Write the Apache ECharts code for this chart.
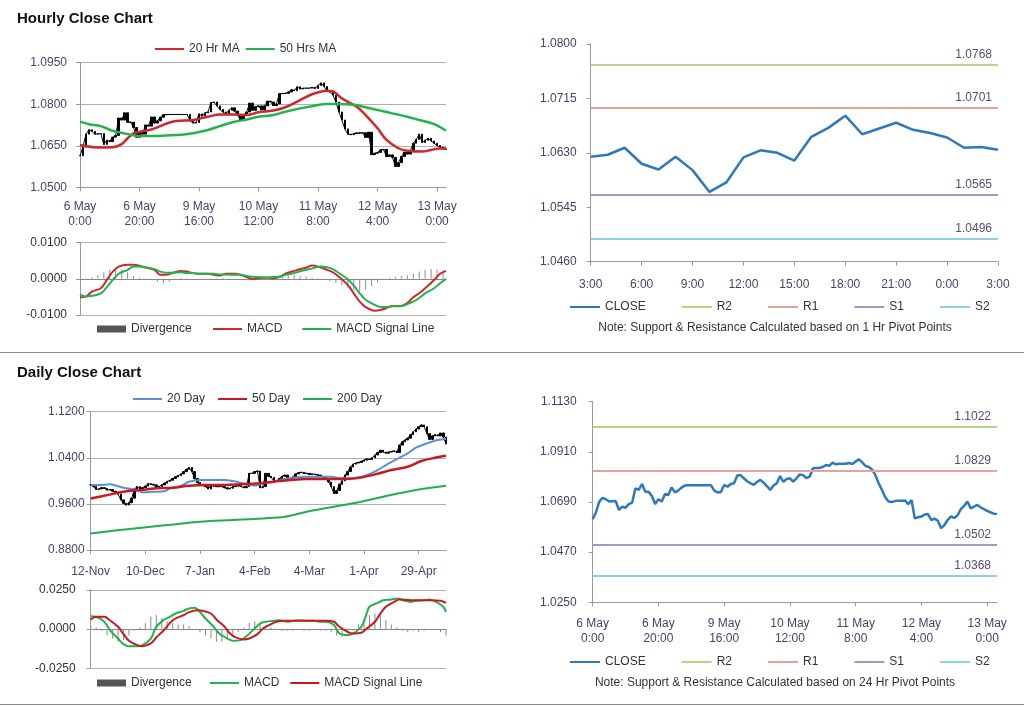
<!DOCTYPE html>
<html>
<head>
<meta charset="utf-8">
<script src="https://cdn.jsdelivr.net/npm/echarts@6/dist/echarts.min.js"></script>
<style>
html,body{margin:0;padding:0;background:#fff;}
#wrap{position:relative;width:1024px;height:706px;overflow:hidden;}
.c{position:absolute;}
.sep{position:absolute;left:0;width:1024px;height:1px;background:#8c8c8c;}
</style>
</head>
<body>
<div id="wrap">
  <div id="A" class="c" style="left:0;top:0;width:512px;height:352px;"></div>
  <div id="B" class="c" style="left:512px;top:0;width:512px;height:352px;"></div>
  <div id="C" class="c" style="left:0;top:352px;width:512px;height:354px;"></div>
  <div id="D" class="c" style="left:512px;top:352px;width:512px;height:354px;"></div>
  <div class="sep" style="top:352px;"></div>
  <div class="sep" style="top:704px;"></div>
</div>
<script>
// ---------------- DATA ----------------
const hourlyTicks = ['6 May\n0:00','6 May\n20:00','9 May\n16:00','10 May\n12:00','11 May\n8:00','12 May\n4:00','13 May\n0:00'];
const hour24Ticks = ['3:00','6:00','9:00','12:00','15:00','18:00','21:00','0:00','3:00'];
const dailyTicks = ['12-Nov','10-Dec','7-Jan','4-Feb','4-Mar','1-Apr','29-Apr'];

// hourly closes, 6 May 0:00 .. 13 May 3:00 (124 hours)
const hourlyClose = [
 1.0614,1.0645,1.0692,1.0708,1.0702,1.0692,1.0693,1.0694,1.0655,1.0670,
 1.0665,1.0681,1.0687,1.0750,1.0743,1.0769,1.0735,1.0735,1.0716,1.0681,
 1.0702,1.0692,1.0725,1.0721,1.0754,1.0732,1.0740,1.0753,1.0762,1.0763,
 1.0763,1.0763,1.0763,1.0763,1.0763,1.0763,1.0763,1.0740,1.0732,1.0734,
 1.0765,1.0757,1.0769,1.0772,1.0806,1.0808,1.0794,1.0781,1.0772,1.0765,
 1.0778,1.0787,1.0775,1.0760,1.0743,1.0762,1.0772,1.0804,1.0778,1.0791,
 1.0794,1.0779,1.0794,1.0811,1.0808,1.0795,1.0801,1.0838,1.0839,1.0839,
 1.0844,1.0852,1.0849,1.0863,1.0855,1.0858,1.0858,1.0858,1.0861,1.0857,
 1.0868,1.0877,1.0864,1.0848,1.0844,1.0833,1.0808,1.0772,1.0743,1.0711,
 1.0692,1.0690,1.0694,1.0696,1.0696,1.0697,1.0680,1.0699,1.0618,1.0623,
 1.0626,1.0635,1.0637,1.0611,1.0617,1.0608,1.0575,1.0589,1.0611,1.0627,
 1.0620,1.0632,1.0659,1.0673,1.0692,1.0662,1.0670,1.0677,1.0667,1.0659,
 1.0651,1.0645,1.0639,1.0637
];
// [hour index, value]
const hourlyMA20 = [[0,1.0653],[6,1.0644],[11,1.0645],[14,1.0656],[16,1.0677],[18,1.0695],[20,1.0700],[24,1.0709],[27,1.0721],[31,1.0737],[35,1.0741],[38,1.0743],[43,1.0755],[47,1.0763],[52,1.0763],[56,1.0761],[60,1.0771],[65,1.0777],[69,1.0789],[74,1.0815],[78,1.0836],[83,1.0849],[85,1.0847],[88,1.0821],[93,1.0791],[96,1.0761],[100,1.0713],[103,1.0671],[107,1.0641],[110,1.0632],[115,1.0629],[118,1.0635],[121,1.0640],[123,1.0640]];
const hourlyMA50 = [[0,1.0737],[3,1.0728],[7,1.0721],[11,1.0704],[16,1.0692],[20,1.0685],[25,1.0685],[29,1.0687],[34,1.0690],[38,1.0695],[43,1.0707],[47,1.0721],[52,1.0737],[56,1.0745],[60,1.0755],[65,1.0761],[69,1.0773],[74,1.0785],[78,1.0793],[83,1.0801],[87,1.0801],[92,1.0798],[96,1.0789],[101,1.0777],[105,1.0767],[110,1.0755],[114,1.0743],[119,1.0728],[123,1.0704]];
const hourlyMACD = [[0,-0.0051],[2,-0.0049],[4,-0.0035],[7,-0.0026],[9,-0.0003],[11,0.0020],[13,0.0034],[16,0.0039],[18,0.0039],[20,0.0036],[22,0.0031],[25,0.0025],[27,0.0011],[29,0.0011],[31,0.0016],[34,0.0022],[36,0.0020],[38,0.0016],[40,0.0014],[43,0.0014],[45,0.0011],[47,0.0009],[49,0.0014],[52,0.0014],[54,0.0011],[56,0.0005],[58,-0.0001],[60,0.0002],[63,0.0004],[65,0.0002],[67,0.0005],[69,0.0014],[72,0.0022],[74,0.0027],[76,0.0031],[78,0.0037],[81,0.0031],[83,0.0025],[85,0.0018],[87,0.0006],[90,-0.0017],[92,-0.0040],[94,-0.0063],[96,-0.0078],[99,-0.0088],[101,-0.0086],[103,-0.0081],[105,-0.0075],[108,-0.0075],[110,-0.0067],[112,-0.0051],[114,-0.0040],[116,-0.0026],[119,-0.0003],[121,0.0014],[123,0.0022]];
const hourlySignal = [[0,-0.0044],[2,-0.0049],[4,-0.0047],[7,-0.0040],[9,-0.0023],[11,-0.0003],[13,0.0014],[16,0.0025],[18,0.0034],[20,0.0034],[22,0.0032],[25,0.0027],[27,0.0020],[29,0.0017],[31,0.0017],[34,0.0018],[36,0.0016],[38,0.0016],[40,0.0014],[43,0.0014],[45,0.0014],[47,0.0012],[49,0.0012],[52,0.0011],[54,0.0011],[56,0.0008],[58,0.0006],[60,0.0005],[63,0.0004],[65,0.0005],[67,0.0006],[69,0.0011],[72,0.0016],[74,0.0021],[76,0.0025],[78,0.0029],[81,0.0034],[83,0.0032],[85,0.0027],[87,0.0016],[90,-0.0001],[92,-0.0019],[94,-0.0040],[96,-0.0058],[99,-0.0072],[101,-0.0078],[103,-0.0078],[105,-0.0076],[108,-0.0075],[110,-0.0070],[112,-0.0063],[114,-0.0053],[116,-0.0040],[119,-0.0026],[121,-0.0012],[123,0.0000]];
const hourlyDivergence = [[0,-0.0004],[2,-0.0002],[4,0.0004],[6,0.0010],[8,0.0018],[10,0.0026],[12,0.0030],[14,0.0025],[16,0.0018],[18,0.0008],[20,0.0003],[22,0.0001],[24,-0.0003],[26,-0.0008],[28,-0.0012],[30,-0.0008],[32,-0.0003],[34,0.0003],[36,0.0002],[38,-0.0002],[40,-0.0003],[42,-0.0002],[44,-0.0001],[46,0.0002],[48,0.0003],[50,0.0002],[52,0.0001],[54,-0.0002],[56,-0.0004],[58,-0.0003],[60,-0.0001],[62,0.0001],[64,0.0002],[66,0.0004],[68,0.0006],[70,0.0009],[72,0.0010],[74,0.0008],[76,0.0006],[78,0.0004],[80,0.0002],[82,-0.0002],[84,-0.0006],[86,-0.0012],[88,-0.0018],[90,-0.0024],[92,-0.0030],[94,-0.0035],[96,-0.0030],[98,-0.0020],[100,-0.0010],[102,-0.0003],[104,0.0003],[106,0.0006],[108,0.0008],[110,0.0010],[112,0.0015],[114,0.0020],[116,0.0025],[118,0.0027],[120,0.0026],[122,0.0020]];

// last 24 hours, 3:00 .. 3:00
const close24 = [1.0624,1.0627,1.0638,1.0613,1.0604,1.0624,1.0603,1.0569,1.0584,1.0623,1.0634,1.0630,1.0618,1.0655,1.0669,1.0688,1.0659,1.0668,1.0677,1.0666,1.0661,1.0654,1.0638,1.0639,1.0635];
const pivots1h = {R2:1.0768, R1:1.0701, S1:1.0565, S2:1.0496};
const pivots24h = {R2:1.1022, R1:1.0829, S1:1.0502, S2:1.0368};

// daily closes, 12-Nov .. 13-May (131 days)
const dailyClose = [
 0.993,0.990,0.985,0.986,0.988,0.987,0.984,0.985,0.982,0.980,
 0.977,0.967,0.961,0.958,0.962,0.970,0.986,0.990,0.986,0.988,
 0.991,0.995,0.994,0.993,0.988,0.990,0.993,0.996,0.999,1.001,
 1.004,1.007,1.009,1.012,1.016,1.020,1.023,1.016,1.004,0.997,
 0.994,0.992,0.990,0.986,0.993,0.991,0.990,0.990,0.990,0.988,
 0.986,0.987,0.990,0.991,0.992,0.990,0.988,0.990,1.013,1.013,
 1.016,1.017,0.988,0.990,1.013,1.008,1.006,1.000,1.000,1.004,
 1.008,1.010,1.005,1.004,1.007,1.012,1.014,1.015,1.013,1.013,
 1.011,1.012,1.011,1.010,1.008,1.006,1.004,0.998,0.990,0.978,
 0.983,0.994,1.000,1.010,1.016,1.024,1.029,1.031,1.032,1.034,
 1.036,1.038,1.037,1.040,1.045,1.049,1.053,1.050,1.048,1.050,
 1.051,1.052,1.049,1.062,1.068,1.071,1.074,1.080,1.085,1.090,
 1.094,1.097,1.094,1.082,1.072,1.078,1.080,1.078,1.083,1.076,
 1.064
];
const dailyMA20 = [[0,0.9927],[3,0.9927],[7,0.994],[9,0.992],[13,0.987],[17,0.984],[19,0.980],[23,0.981],[27,0.982],[29,0.987],[33,0.9915],[36,0.9985],[40,1.0014],[45,1.0014],[49,1.0014],[52,0.9996],[56,0.9956],[60,0.9915],[63,0.9956],[67,0.9985],[71,1.0031],[74,1.0054],[79,1.0072],[84,1.0072],[88,1.0072],[90,1.0054],[94,1.0043],[97,1.0054],[101,1.010],[105,1.0187],[108,1.0274],[112,1.0378],[116,1.0477],[119,1.0575],[123,1.065],[127,1.0708],[130,1.0725]];
const dailyMA50 = [[0,0.9695],[6,0.9752],[12,0.981],[18,0.984],[24,0.987],[30,0.988],[36,0.9915],[42,0.9927],[49,0.9927],[55,0.994],[61,0.9956],[67,0.9985],[73,1.0014],[79,1.0031],[85,1.0031],[91,1.0031],[97,1.0043],[104,1.0112],[110,1.0187],[116,1.0245],[121,1.0344],[126,1.0401],[130,1.0436]];
const dailyMA200 = [[0,0.9088],[16,0.9175],[28,0.9233],[40,0.929],[52,0.932],[63,0.9348],[71,0.9377],[79,0.9464],[89,0.955],[99,0.9638],[107,0.9724],[119,0.984],[130,0.9915]];
const dailyMACD = [[0,0.0083],[2,0.0079],[5,0.0047],[7,-0.0006],[10,-0.0060],[12,-0.0096],[14,-0.0109],[17,-0.0109],[19,-0.0102],[22,-0.0060],[24,0.0015],[27,0.0062],[29,0.0079],[31,0.0100],[34,0.0117],[36,0.0132],[38,0.0136],[40,0.0110],[42,0.0068],[45,0.0015],[47,-0.0028],[50,-0.0060],[52,-0.0074],[55,-0.0070],[57,-0.0045],[60,0.0004],[62,0.0036],[64,0.0047],[67,0.0053],[69,0.0057],[72,0.0047],[74,0.0053],[77,0.0057],[79,0.0053],[82,0.0053],[84,0.0047],[86,0.0047],[89,0.0026],[91,-0.0028],[94,-0.0038],[96,-0.0028],[99,0.0015],[101,0.0100],[102,0.0143],[105,0.0168],[107,0.0185],[110,0.0189],[112,0.0196],[115,0.0181],[117,0.0174],[119,0.0181],[122,0.0185],[124,0.0189],[127,0.0168],[129,0.0143],[130,0.0111]];
const dailySignal = [[0,0.0062],[2,0.0079],[5,0.0079],[7,0.0057],[10,0.0015],[12,-0.0032],[14,-0.0074],[17,-0.0102],[19,-0.0109],[22,-0.0091],[24,-0.0053],[27,-0.0002],[29,0.0040],[31,0.0068],[34,0.0089],[36,0.0109],[39,0.0121],[41,0.0117],[44,0.0100],[46,0.0062],[49,0.0015],[51,-0.0028],[53,-0.0053],[56,-0.0066],[58,-0.0060],[61,-0.0032],[63,0.0004],[66,0.0032],[68,0.0047],[71,0.0053],[77,0.0053],[82,0.0053],[86,0.0053],[89,0.0047],[91,0.0015],[94,-0.0017],[96,-0.0028],[99,-0.0023],[101,0.0004],[104,0.0047],[106,0.0100],[108,0.0143],[111,0.0174],[113,0.0189],[117,0.0185],[121,0.0185],[124,0.0185],[128,0.0181],[130,0.0168]];
const dailyDivergence = [[0,0.002],[2,0.001],[4,-0.001],[6,-0.004],[8,-0.006],[10,-0.008],[12,-0.007],[14,-0.004],[16,-0.001],[18,0.001],[20,0.004],[22,0.008],[24,0.009],[26,0.007],[28,0.005],[30,0.004],[32,0.003],[34,0.003],[36,0.002],[38,0.000],[40,-0.002],[42,-0.004],[44,-0.006],[46,-0.008],[48,-0.008],[50,-0.006],[52,-0.004],[54,-0.002],[56,0.001],[58,0.004],[60,0.005],[62,0.004],[64,0.002],[66,0.001],[68,0.000],[70,-0.001],[72,-0.001],[74,-0.001],[76,0.000],[78,-0.001],[80,-0.001],[82,0.000],[84,-0.001],[86,-0.001],[88,-0.002],[90,-0.004],[92,-0.005],[94,-0.003],[96,-0.001],[98,0.003],[100,0.006],[102,0.009],[104,0.010],[106,0.009],[108,0.006],[110,0.003],[112,0.001],[114,-0.001],[116,-0.002],[118,-0.001],[120,-0.002],[122,-0.001],[124,0.000],[126,0.000],[128,-0.002],[130,-0.004]];

// ---------------- STYLE ----------------
const FONT = '"Liberation Sans", Arial, sans-serif';
const LBL = '#4d3d6b';
const AXC = '#9a9a9a';
const GRIDC = '#b0b0b0';
const PIVOT_COLORS = {R2:'#b6d38c', R1:'#ec9f9f', S1:'#a894c9', S2:'#8fd0e4'};
const LEGTXT = {fontFamily:FONT, fontSize:12, color:'#333'};

function idx(n){ const a=[]; for(let i=0;i<n;i++) a.push(i); return a; }
function ohlc(closes){
  return closes.map((c,i)=>{ const o = i ? closes[i-1] : c; return [o, c, Math.min(o,c), Math.max(o,c)]; });
}
function fmt4(v){ return (Math.abs(v) < 1e-12 ? 0 : v).toFixed(4); }
function priceBars(data){
  return [
    {type:'line', name:'priceLine', data:data, symbol:'none', xAxisIndex:0, yAxisIndex:0,
     lineStyle:{color:'#111', width:1}, silent:true, z:1},
    {type:'candlestick', name:'price', xAxisIndex:0, yAxisIndex:0, data:ohlc(data), barWidth:2,
     itemStyle:{color:'#000', color0:'#000', borderColor:'#000', borderColor0:'#000', borderWidth:1}, silent:true, z:2}
  ];
}
function ln(name, data, color, width, xi, yi){
  return {type:'line', name, data, xAxisIndex:xi||0, yAxisIndex:yi||0, symbol:'none', smooth:0.35,
    color, lineStyle:{color, width:width||2}, silent:true, z:3};
}
function divBars(data){
  return {type:'bar', name:'Divergence', data, xAxisIndex:1, yAxisIndex:1, barWidth:1, color:'#555',
    itemStyle:{color:'#8a8a8a'}, silent:true, z:1};
}
function lineLegend(names, left, top, gap){
  return {data:names, left, top, icon:'rect', itemWidth:29, itemHeight:2, itemGap:gap, textStyle:LEGTXT};
}
function leftPanel(o){
  const n = o.n;
  return {
    animation:false,
    textStyle:{fontFamily:FONT},
    title:{text:o.title, left:12, top:o.titleTop, textStyle:{fontFamily:FONT, fontSize:15, fontWeight:'bold', color:'#111'}},
    legend:[
      lineLegend(o.legend1, o.leg1Left, o.leg1Top, o.leg1Gap),
      {data:['Divergence'], left:92, top:o.leg2Top, icon:'rect', itemWidth:29, itemHeight:7, itemGap:10,
       itemStyle:{color:'#555'}, textStyle:LEGTXT},
      lineLegend(['MACD','MACD Signal Line'], o.leg3Left, o.leg2Top, o.leg3Gap)
    ],
    grid:[o.grid0, o.grid1],
    xAxis:[
      {gridIndex:0, type:'category', data:idx(n), boundaryGap:false,
       axisLine:{lineStyle:{color:AXC}}, axisTick:{interval:19, length:4, lineStyle:{color:AXC}},
       axisLabel:{interval:19, formatter:(v,i)=>o.ticks[i/20]||'', margin:o.xMargin, fontSize:12, lineHeight:15, color:LBL, fontFamily:FONT},
       splitLine:{show:false}},
      {gridIndex:1, type:'category', data:idx(n), boundaryGap:false,
       axisLine:{onZero:true, lineStyle:{color:'#888'}}, axisTick:{show:false}, axisLabel:{show:false}, splitLine:{show:false}}
    ],
    yAxis:[
      {gridIndex:0, type:'value', min:o.y0[0], max:o.y0[1], interval:o.y0[2],
       axisLine:{show:true, lineStyle:{color:AXC}}, axisTick:{show:true, length:4, lineStyle:{color:AXC}},
       splitLine:{lineStyle:{color:GRIDC}}, axisLabel:{formatter:fmt4, margin:o.yMargin, color:LBL, fontSize:12, fontFamily:FONT}},
      {gridIndex:1, type:'value', min:o.y1[0], max:o.y1[1], interval:o.y1[2],
       axisLine:{show:true, lineStyle:{color:AXC}}, axisTick:{show:true, length:4, lineStyle:{color:AXC}},
       splitLine:{lineStyle:{color:GRIDC}}, axisLabel:{formatter:fmt4, margin:o.yMargin1, color:'#333', fontSize:12, fontFamily:FONT}}
    ],
    series:o.series
  };
}
function rightPanel(o){
  const n = o.closes.length;
  const series = [ln('CLOSE', o.closes, '#2e78bd', 2.5)];
  series[0].smooth = false;
  ['R2','R1','S1','S2'].forEach(k=>{
    const v = o.pivots[k];
    series.push({type:'line', name:k, data:[], symbol:'none', color:PIVOT_COLORS[k], lineStyle:{color:PIVOT_COLORS[k], width:1.5},
      markLine:{symbol:'none', silent:true, precision:4, lineStyle:{color:PIVOT_COLORS[k], width:2, type:'solid'},
        label:{position:'insideEndTop', formatter:fmt4(v), color:'#5a4a7a', fontSize:12, fontFamily:FONT, distance:[6,4]},
        data:[{yAxis:v}]}});
  });
  return {
    animation:false,
    textStyle:{fontFamily:FONT},
    legend:{data:['CLOSE','R2','R1','S1','S2'], left:53, top:o.legTop, icon:'rect', itemWidth:30, itemHeight:2, itemGap:36,
      textStyle:LEGTXT},
    grid:o.grid,
    xAxis:{type:'category', data:idx(n), boundaryGap:false,
      axisLine:{lineStyle:{color:AXC}}, axisTick:{interval:o.tickEvery-1, length:4, lineStyle:{color:AXC}},
      axisLabel:{interval:o.tickEvery-1, formatter:(v,i)=>o.ticks[i/o.tickEvery]||'', margin:o.xMargin, fontSize:12, lineHeight:15, color:LBL, fontFamily:FONT},
      splitLine:{show:false}},
    yAxis:{type:'value', min:o.yTicks[0], max:o.yTicks[o.yTicks.length-1],
      axisLine:{show:true, lineStyle:{color:AXC}},
      axisTick:{show:true, length:4, lineStyle:{color:AXC}, customValues:o.yTicks},
      axisLabel:{customValues:o.yTicks, formatter:fmt4, margin:o.yMargin, color:LBL, fontSize:12, fontFamily:FONT},
      splitLine:{show:false}},
    graphic:[{type:'text', x:263, y:o.noteY, style:{text:o.note, align:'center', verticalAlign:'middle', fontSize:12, fontFamily:FONT, fill:'#333'}}],
    series
  };
}

// ---------------- CHARTS ----------------
const A = echarts.init(document.getElementById('A'), null, {renderer:'canvas'});
A.setOption(leftPanel({
  n:hourlyClose.length, title:'Hourly Close Chart', titleTop:6, ticks:hourlyTicks,
  legend1:['20 Hr MA','50 Hrs MA'], leg1Left:150, leg1Top:38, leg1Gap:6, leg2Top:318,
  leg3Left:208, leg3Gap:20,
  grid0:{left:80, top:62.7, width:366, height:124.6}, grid1:{left:80, top:242.7, width:366, height:72.3},
  y0:[1.05,1.095,0.015], y1:[-0.01,0.01,0.01], xMargin:12, yMargin:13, yMargin1:13,
  series:[
    ...priceBars(hourlyClose),
    ln('20 Hr MA', hourlyMA20, '#d0262c', 2.5),
    ln('50 Hrs MA', hourlyMA50, '#24b24e', 2.5),
    divBars(hourlyDivergence),
    ln('MACD', hourlyMACD, '#d0262c', 2, 1, 1),
    ln('MACD Signal Line', hourlySignal, '#24b24e', 2, 1, 1)
  ]
}));

const C = echarts.init(document.getElementById('C'), null, {renderer:'canvas'});
C.setOption(leftPanel({
  n:dailyClose.length, title:'Daily Close Chart', titleTop:8, ticks:dailyTicks,
  legend1:['20 Day','50 Day','200 Day'], leg1Left:128, leg1Top:36, leg1Gap:13, leg2Top:320,
  leg3Left:205, leg3Gap:11,
  grid0:{left:90.7, top:59.7, width:355.3, height:138.3}, grid1:{left:90.7, top:238, width:355.3, height:78.3},
  y0:[0.88,1.12,0.08], y1:[-0.025,0.025,0.025], xMargin:14, yMargin:6, yMargin1:15,
  series:[
    ...priceBars(dailyClose),
    ln('20 Day', dailyMA20, '#5b8fd6', 2),
    ln('50 Day', dailyMA50, '#c9191f', 2.5),
    ln('200 Day', dailyMA200, '#22b04b', 2),
    divBars(dailyDivergence),
    ln('MACD', dailyMACD, '#24b24e', 2, 1, 1),
    ln('MACD Signal Line', dailySignal, '#c9191f', 2, 1, 1)
  ]
}));

const B = echarts.init(document.getElementById('B'), null, {renderer:'canvas'});
B.setOption(rightPanel({
  closes:close24, pivots:pivots1h, ticks:hour24Ticks, tickEvery:3,
  grid:{left:78.7, top:44, width:407.3, height:217.7},
  yTicks:[1.046,1.0545,1.063,1.0715,1.08], yMargin:14, xMargin:15, legTop:296,
  note:'Note: Support & Resistance Calculated based on 1 Hr Pivot Points', noteY:328
}));

const D = echarts.init(document.getElementById('D'), null, {renderer:'canvas'});
D.setOption(rightPanel({
  closes:hourlyClose, pivots:pivots24h, ticks:hourlyTicks, tickEvery:20,
  grid:{left:80.7, top:49.7, width:404.3, height:200.6},
  yTicks:[1.025,1.047,1.069,1.091,1.113], yMargin:16, xMargin:14, legTop:299,
  note:'Note: Support & Resistance Calculated based on 24 Hr Pivot Points', noteY:331
}));
</script>
</body>
</html>
